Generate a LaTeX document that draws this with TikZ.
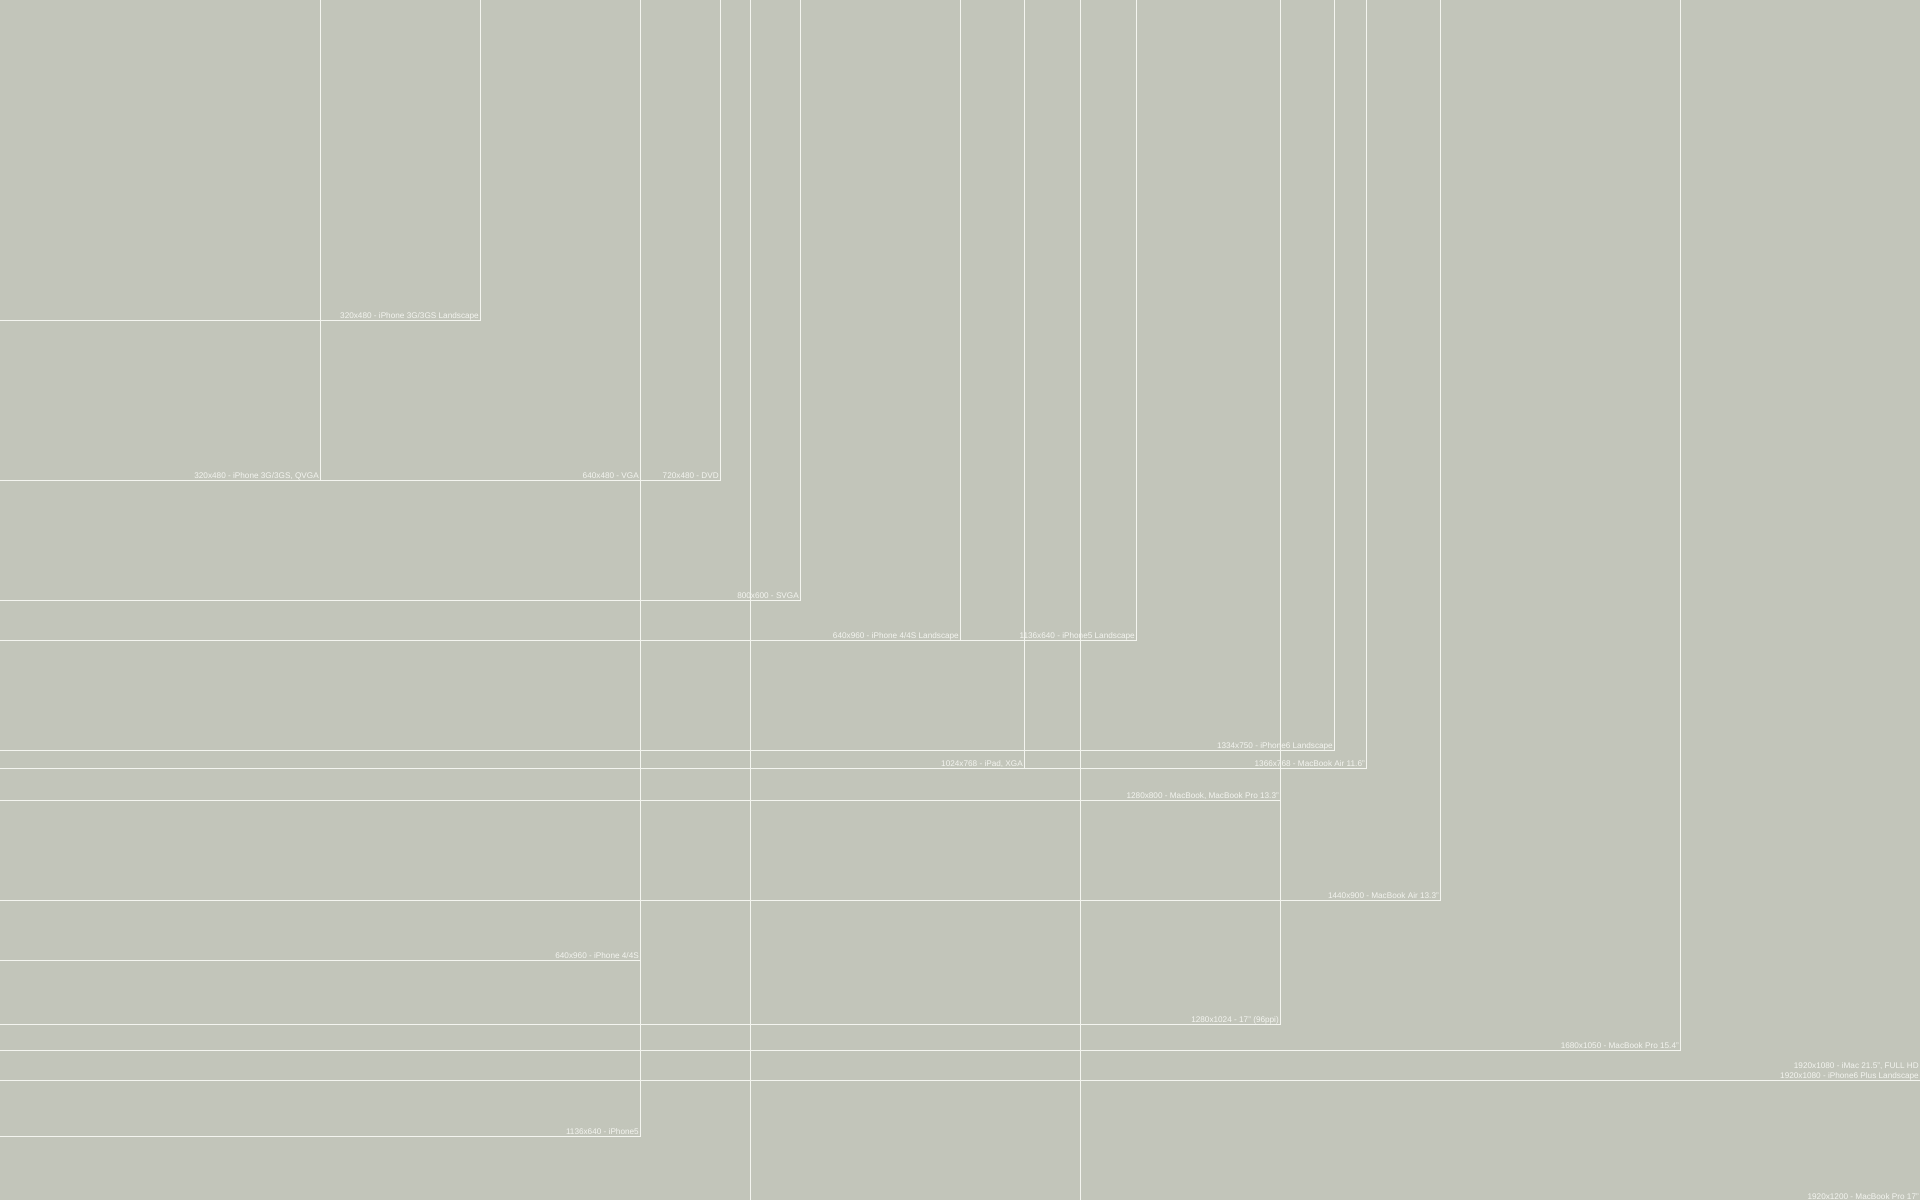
\documentclass[tikz,border=0pt]{standalone}
\usepackage{fontspec}
\setmainfont{Liberation Sans}
\definecolor{bg}{HTML}{C2C5BA}
\definecolor{ln}{HTML}{F4F5F0}
\definecolor{tx}{HTML}{F4F5F0}
\begin{document}
\begin{tikzpicture}[x=1pt,y=-1pt,
  edge/.style={draw=ln,line width=1pt},
  lbl/.style={anchor=base east,inner sep=0pt,text=tx,font=\fontsize{8.2}{8.2}\selectfont}]
\fill[bg] (0,0) rectangle (1920,1200);
\useasboundingbox (0,0) rectangle (1920,1200);
\clip (0,0) rectangle (1920,1200);
% full-height verticals (portrait screens taller than the canvas)
\draw[edge] (750,0) -- (750,1200);
\draw[edge] (1080,0) -- (1080,1200);
\foreach \w/\h/\t/\n in {
  480/320/{320x480 - iPhone 3G/3GS Landscape}/a,
  320/480/{320x480 - iPhone 3G/3GS, QVGA}/b,
  640/480/{640x480 - VGA}/c,
  720/480/{720x480 - DVD}/d,
  800/600/{800x600 - SVGA}/e,
  960/640/{640x960 - iPhone 4/4S Landscape}/f,
  1136/640/{1136x640 - iPhone5 Landscape}/g,
  1334/750/{1334x750 - iPhone6 Landscape}/h,
  1024/768/{1024x768 - iPad, XGA}/i,
  1366/768/{1366x768 - MacBook Air 11.6"}/j,
  1280/800/{1280x800 - MacBook, MacBook Pro 13.3"}/k,
  1440/900/{1440x900 - MacBook Air 13.3"}/l,
  640/960/{640x960 - iPhone 4/4S}/m,
  1280/1024/{1280x1024 - 17'' (96ppi)}/n,
  1680/1050/{1680x1050 - MacBook Pro 15.4"}/o,
  1920/1080/{1920x1080 - iPhone6 Plus Landscape}/p,
  640/1136/{1136x640 - iPhone5}/q,
  1920/1201/{1920x1200 - MacBook Pro 17"}/r}
{
  \draw[edge] (0,\h) -- (\w,\h) -- (\w,0);
  \node[lbl] (lab\n) at (\w-1,\h-1.8) {\t};
}
\node[lbl] (labimac) at (1919,1068.5) {1920x1080 - iMac 21.5", FULL HD};
\end{tikzpicture}
\end{document}
